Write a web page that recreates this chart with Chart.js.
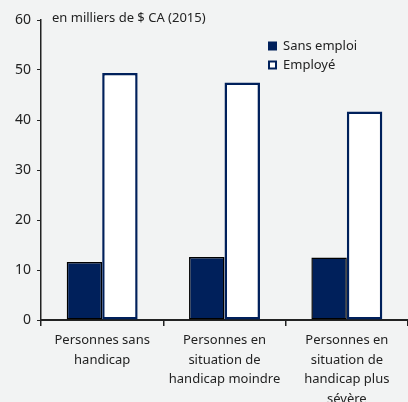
<!DOCTYPE html>
<html>
<head>
<meta charset="utf-8">
<script src="https://cdn.jsdelivr.net/npm/chart.js@4"></script>
<style>
  body { margin: 0; background: #f2f3f3; }
  #wrap { width: 408px; height: 402px; }
</style>
</head>
<body>
<div id="wrap"><canvas id="canvas"></canvas></div>
<script>
const labels = [
    ['Personnes sans', 'handicap'],
    ['Personnes en', 'situation de', 'handicap moindre'],
    ['Personnes en', 'situation de', 'handicap plus', 'sévère']
];
const sansEmploi = [11.6, 12.6, 12.5];
const employe = [49.4, 47.5, 41.7];
const unitLabel = 'en milliers de $ CA (2015)';

const navy = '#00205b';
const fontFamily = '"Noto Sans", sans-serif';

// legend + unit text drawn by hand
const extras = {
    id: 'extras',
    afterDraw(chart) {
        const ctx = chart.ctx;
        const area = chart.chartArea;
        ctx.save();
        ctx.font = '13px ' + fontFamily;
        ctx.fillStyle = '#222';
        ctx.textBaseline = 'middle';
        ctx.textAlign = 'left';
        ctx.fillText(unitLabel, area.left + 11, area.top - 2);

        const lx = 268, ly = 46;
        chart.data.datasets.forEach(function (ds, i) {
            const y = ly + i * 19;
            if (i == 0) {
                ctx.fillStyle = navy;
                ctx.fillRect(lx, y - 4.5, 9, 9);
            } else {
                ctx.fillStyle = '#fff';
                ctx.fillRect(lx, y - 4.5, 9, 9);
                ctx.strokeStyle = navy;
                ctx.lineWidth = 2;
                ctx.strokeRect(lx + 1, y - 3.5, 7, 7);
            }
            ctx.fillStyle = '#222';
            ctx.fillText(ds.label, lx + 15, y);
        });
        ctx.restore();
    }
};

const data = {
    labels: labels,
    datasets: [
        {
            label: 'Sans emploi',
            data: sansEmploi,
            backgroundColor: navy,
            borderColor: '#000',
            borderWidth: 1.5,
            borderSkipped: false,
        },
        {
            label: 'Employé',
            data: employe,
            backgroundColor: '#fff',
            borderColor: navy,
            borderWidth: 2.5,
            borderSkipped: false,
        }
    ]
};

const config = {
    type: 'bar',
    data: data,
    options: {
        responsive: true,
        maintainAspectRatio: false,
        animation: false,
        layout: { padding: { top: 20, right: 0, left: 9, bottom: 0 } },
        datasets: {
            bar: { barPercentage: 1.0, categoryPercentage: 0.58 }
        },
        plugins: {
            legend: { display: false },
            tooltip: { enabled: false }
        },
        scales: {
            x: {
                offset: true,
                afterFit(scale) { scale.height = 82; },
                grid: {
                    offset: true,
                    drawOnChartArea: false,
                    drawTicks: true,
                    tickLength: 6,
                    color: '#222',
                    lineWidth: 1.5
                },
                border: { color: '#222', width: 2 },
                ticks: {
                    color: '#222',
                    font: { family: fontFamily, size: 13, lineHeight: 1.5 },
                    maxRotation: 0,
                    padding: 5
                }
            },
            y: {
                min: 0,
                max: 60,
                grid: {
                    drawOnChartArea: false,
                    tickLength: 4,
                    color: '#222'
                },
                border: { color: '#222', width: 1.5 },
                ticks: {
                    stepSize: 10,
                    color: '#222',
                    font: { family: fontFamily, size: 14 },
                    padding: 6
                }
            }
        }
    },
    plugins: [extras]
};

const canvas = document.getElementById('canvas');
const chart = new Chart(canvas, config);
</script>
</body>
</html>
